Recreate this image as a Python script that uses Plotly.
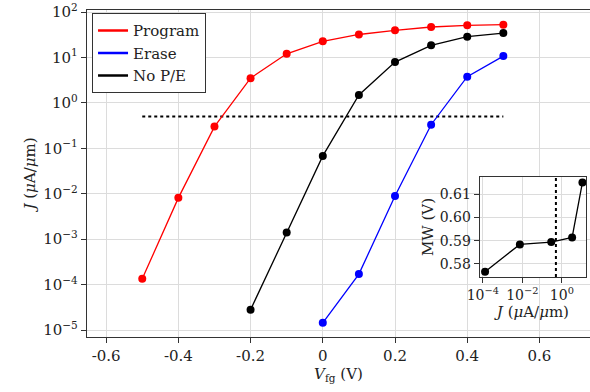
import plotly.graph_objects as go

vfg = [-0.5, -0.4, -0.3, -0.2, -0.1, 0.0, 0.1, 0.2, 0.3, 0.4, 0.5]
j_program = [1.34e-4, 8.1e-3, 0.30, 3.5, 12.0, 22.6, 32.0, 39.5, 46.8, 51.0, 52.5]
vfg_nope = [-0.2, -0.1, 0.0, 0.1, 0.2, 0.3, 0.4, 0.5]
j_nope = [2.8e-5, 1.4e-3, 0.068, 1.49, 7.9, 18.5, 28.6, 34.4]
vfg_erase = [0.0, 0.1, 0.2, 0.3, 0.4, 0.5]
j_erase = [1.44e-5, 1.7e-4, 8.9e-3, 0.33, 3.77, 10.7]

j_ref = 0.5
ref_x = [-0.5, 0.5]

inset_j = [1.3e-4, 7.5e-3, 0.29, 3.3, 11.0]
inset_mw = [0.5767, 0.5884, 0.5894, 0.5914, 0.615]

x_ticks = [-0.6, -0.4, -0.2, 0.0, 0.2, 0.4, 0.6]
x_ticktext = ["-0.6", "-0.4", "-0.2", "0", "0.2", "0.4", "0.6"]
y_ticks = [1e-5, 1e-4, 1e-3, 1e-2, 1e-1, 1e0, 1e1, 1e2]
y_ticktext = ["10<sup>−5</sup>", "10<sup>−4</sup>", "10<sup>−3</sup>", "10<sup>−2</sup>",
              "10<sup>−1</sup>", "10<sup>0</sup>", "10<sup>1</sup>", "10<sup>2</sup>"]
inset_x_ticks = [1e-4, 1e-2, 1e0]
inset_x_ticktext = ["10<sup>−4</sup>", "10<sup>−2</sup>", "10<sup>0</sup>"]
mw_ticks = [0.58, 0.59, 0.60, 0.61]
mw_ticktext = ["0.58", "0.59", "0.60", "0.61"]

FONT = "DejaVu Serif"
RED = "#ff0000"
BLUE = "#0000ff"
BLACK = "#000000"

fig = go.Figure()

fig.add_trace(go.Scatter(x=[ref_x[0], ref_x[1]], y=[j_ref, j_ref], mode="lines",
                         line=dict(color=BLACK, width=2, dash="dot"), showlegend=False,
                         xaxis="x", yaxis="y"))

for xs, ys, col in [(vfg, j_program, RED), (vfg_erase, j_erase, BLUE), (vfg_nope, j_nope, BLACK)]:
    fig.add_trace(go.Scatter(x=xs, y=ys, mode="lines+markers",
                             line=dict(color=col, width=1.3),
                             marker=dict(color=col, size=8),
                             showlegend=False, xaxis="x", yaxis="y"))

for name, col in [("Program", RED), ("Erase", BLUE), ("No P/E", BLACK)]:
    fig.add_trace(go.Scatter(x=[None], y=[None], mode="lines", name=name,
                             line=dict(color=col, width=2.5), xaxis="x", yaxis="y"))

# inset
fig.add_trace(go.Scatter(x=inset_j, y=inset_mw, mode="lines+markers",
                         line=dict(color=BLACK, width=1.3), marker=dict(color=BLACK, size=8),
                         showlegend=False, xaxis="x2", yaxis="y2", cliponaxis=False))
fig.add_trace(go.Scatter(x=[j_ref, j_ref], y=[0.5744, 0.6173], mode="lines",
                         line=dict(color=BLACK, width=2, dash="dot"),
                         showlegend=False, xaxis="x2", yaxis="y2"))

axis_common = dict(showline=True, linecolor="#333", linewidth=1.2, mirror=True,
                   ticks="outside", ticklen=5, tickcolor="#333", automargin=False,
                   gridcolor="#dcdcdc", gridwidth=1, zeroline=False)

fig.update_layout(
    width=590, height=392,
    margin=dict(l=87, r=0, t=10, b=55),
    paper_bgcolor="white", plot_bgcolor="white",
    hovermode=False,
    font=dict(family=FONT, size=15, color="#222"),
    xaxis=dict(domain=[0, 1], range=[-0.653, 0.74], tickvals=x_ticks, ticktext=x_ticktext,
               title=dict(text="<i>V</i><sub>fg</sub> (V)", standoff=2, font=dict(size=15)),
               **axis_common),
    yaxis=dict(domain=[0, 1], type="log", range=[-5.154, 2.044],
               tickvals=y_ticks, ticktext=y_ticktext,
               title=dict(text="<i>J</i> (<i>μ</i>A/<i>μ</i>m)", standoff=4, font=dict(size=15)),
               **axis_common),
    xaxis2=dict(domain=[0.781, 0.992], anchor="y2", type="log", range=[-4.15, 1.22],
                tickvals=inset_x_ticks, ticktext=inset_x_ticktext, tickfont=dict(size=14),
                title=dict(text="<i>J</i> (<i>μ</i>A/<i>μ</i>m)", standoff=0, font=dict(size=15)),
                **axis_common),
    yaxis2=dict(domain=[0.1835, 0.489], anchor="x2", range=[0.5744, 0.6173],
                tickvals=mw_ticks, ticktext=mw_ticktext, tickfont=dict(size=14),
                title=dict(text="MW (V)", standoff=2, font=dict(size=15)),
                **axis_common),
    legend=dict(x=0.01, y=0.99, xanchor="left", yanchor="top",
                bgcolor="white", bordercolor="#333", borderwidth=1,
                font=dict(size=15), tracegroupgap=0, itemwidth=30),
)

fig.write_html("out.html",
               config={"displayModeBar": False, "staticPlot": True},
               post_script="document.body.style.margin='0';document.body.style.overflow='hidden';")
